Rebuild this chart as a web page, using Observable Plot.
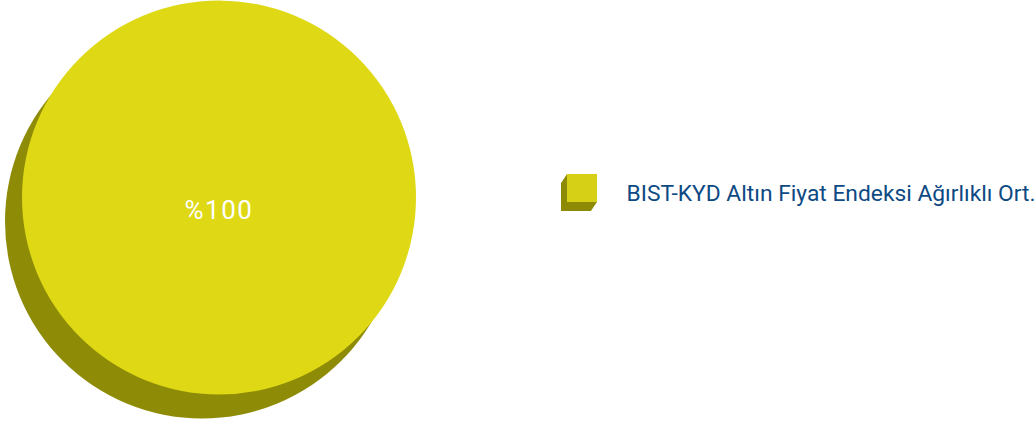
<!DOCTYPE html>
<html><head><meta charset="utf-8">
<script src="https://cdn.jsdelivr.net/npm/d3@7"></script>
<script src="https://cdn.jsdelivr.net/npm/@observablehq/plot@0.6"></script>
<style>html,body{margin:0;padding:0;background:#fff;overflow:hidden}</style>
</head><body><div id="chart"></div>
<script>
const categories = ["BIST-KYD Altın Fiyat Endeksi Ağırlıklı Ort."];
const values = [100];
const labels = ["%100"];
const faceColors = ["#DED815"];
const sideColors = ["#8E8B07"];

const W = 1036, H = 423;
const pie = {cx: 219, cy: 197.5, r: 197, dx: -17, dy: 24};
const leg = {x: 567, y: 174, w: 30, h: 28, dx: -6, dy: 9, tx: 626, gap: 40};

const slices = d3.pie().sort(null).value(d => d.v)(categories.map((c, i) => ({c, v: values[i], i})));

function pieMark(index, scales, chans, dims, ctx) {
  const g = d3.create("svg:g");
  const cx = scales.x(pie.cx), cy = scales.y(pie.cy);
  const r = scales.x(pie.cx + pie.r) - cx;
  const arc = d3.arc().innerRadius(0).outerRadius(r);
  // shadow: the pie offset down-left
  g.append("g").attr("transform", `translate(${cx + pie.dx},${cy + pie.dy})`)
    .selectAll("path").data(slices).join("path")
    .attr("d", arc).attr("fill", d => sideColors[d.data.i]);
  const face = g.append("g").attr("transform", `translate(${cx},${cy})`);
  face.selectAll("path").data(slices).join("path")
    .attr("d", arc).attr("fill", d => faceColors[d.data.i]);
  face.selectAll("text").data(slices).join("text")
    .attr("transform", d => {
      if (d.endAngle - d.startAngle >= 2 * Math.PI - 1e-6) return `translate(0,21.5)`;
      const [x, y] = d3.arc().innerRadius(r * 0.6).outerRadius(r * 0.6).centroid(d);
      return `translate(${x},${y + 21.5})`;
    })
    .attr("text-anchor", "middle")
    .attr("fill", "#fff")
    .attr("font-family", "Roboto, sans-serif")
    .attr("font-size", 26)
    .attr("letter-spacing", 1.5)
    .text(d => labels[d.data.i]);
  // legend squares
  categories.forEach((c, i) => {
    const x = scales.x(leg.x), y = scales.y(leg.y + i * leg.gap);
    for (let k = 20; k >= 1; k--) {
      g.append("rect").attr("x", x + leg.dx * k / 20).attr("y", y + leg.dy * k / 20)
        .attr("width", leg.w).attr("height", leg.h).attr("fill", sideColors[i]);
    }
    g.append("rect").attr("x", x).attr("y", y).attr("width", leg.w).attr("height", leg.h).attr("fill", "#D6D117");
  });
  return g.node();
}

const chart = Plot.plot({
  width: W, height: H, margin: 0,
  x: {domain: [0, W], range: [0, W], axis: null},
  y: {domain: [0, H], range: [0, H], axis: null},
  style: {background: "#fff", overflow: "visible"},
  marks: [
    pieMark,
    Plot.text(categories, {
      x: () => leg.tx, y: (d, i) => 200 + i * leg.gap,
      text: d => d, textAnchor: "start", fill: "#0D4A84",
      fontSize: 22.8, fontFamily: "Roboto, sans-serif", lineAnchor: "bottom"
    })
  ]
});
document.getElementById("chart").appendChild(chart);
</script></body></html>
